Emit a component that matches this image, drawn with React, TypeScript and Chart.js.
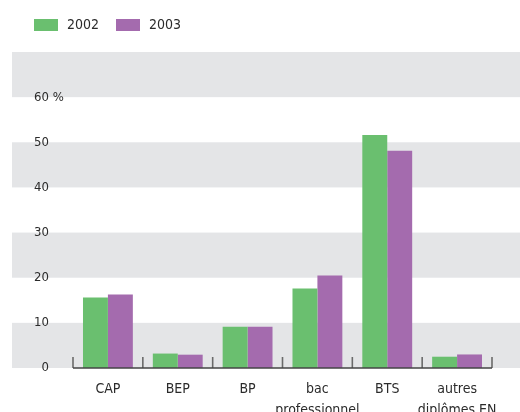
import { useEffect, useRef } from 'react';
import { Chart, registerables } from 'chart.js';

Chart.register(...registerables);

const categories: (string | string[])[] = ['CAP', 'BEP', 'BP', ['bac', 'professionnel'], 'BTS', ['autres', 'diplômes EN']];
const seriesLabels = ['2002', '2003'];
const values2002 = [15.6, 3.2, 9.15, 17.6, 51.6, 2.5];
const values2003 = [16.3, 2.95, 9.15, 20.5, 48.1, 3.0];
const yMin = 0;
const yMax = 70;
const yStep = 10;
const topLabelValue = 60;
const unitSuffix = ' %';

const GREEN = '#6abf6f';
const PURPLE = '#a46bae';
const BAND = '#e4e5e7';
const TEXT = '#2b2b2b';
const FONT = '"Liberation Sans Narrow", "DejaVu Sans Condensed", "Roboto Condensed", sans-serif';

const bandsPlugin = {
  id: 'bands',
  beforeDraw(chart: any) {
    const y = chart.scales.y;
    const ctx = chart.ctx;
    ctx.save();
    ctx.fillStyle = BAND;
    const ticks = y.ticks;
    for (let i = 0; i + 1 < ticks.length; i += 2) {
      const top = y.getPixelForValue(ticks[i + 1].value);
      const bottom = y.getPixelForValue(ticks[i].value);
      ctx.fillRect(y.left, top, chart.width - y.left, bottom - top);
    }
    ctx.restore();
  },
};

const axisPlugin = {
  id: 'axisLine',
  afterDatasetsDraw(chart: any) {
    const x = chart.scales.x;
    const { bottom, left, right } = chart.chartArea;
    const ctx = chart.ctx;
    ctx.save();
    const n = chart.data.labels.length;
    const half = (x.getPixelForValue(1) - x.getPixelForValue(0)) / 2;
    ctx.strokeStyle = '#6a6a6a';
    ctx.lineWidth = 1.6;
    for (let i = 0; i <= n; i++) {
      const px = i < n ? x.getPixelForValue(i) - half : x.getPixelForValue(n - 1) + half;
      ctx.beginPath();
      ctx.moveTo(px, bottom - 11);
      ctx.lineTo(px, bottom);
      ctx.stroke();
    }
    ctx.strokeStyle = '#444444';
    ctx.lineWidth = 1.5;
    ctx.beginPath();
    ctx.moveTo(left, bottom);
    ctx.lineTo(right, bottom);
    ctx.stroke();
    ctx.restore();
  },
};

const extrasPlugin = {
  id: 'extras',
  afterDraw(chart: any) {
    const ctx = chart.ctx;
    ctx.save();
    // unit suffix after the top tick label
    ctx.font = `13px ${FONT}`;
    ctx.fillStyle = TEXT;
    ctx.textAlign = 'left';
    ctx.textBaseline = 'middle';
    ctx.fillText(unitSuffix, chart.chartArea.left - 24, chart.scales.y.getPixelForValue(topLabelValue));
    // legend
    ctx.font = `14px ${FONT}`;
    let lx = 34;
    chart.data.datasets.forEach((ds: any) => {
      ctx.fillStyle = ds.backgroundColor;
      ctx.fillRect(lx, 19, 24, 12);
      ctx.fillStyle = TEXT;
      ctx.fillText(ds.label, lx + 33, 25.5);
      lx += 82;
    });
    ctx.restore();
  },
};

export default function App() {
  const ref = useRef<HTMLCanvasElement>(null);
  useEffect(() => {
    if (!ref.current) return;
    const chart = new Chart(ref.current, {
      type: 'bar',
      data: {
        labels: categories as any,
        datasets: [
          { label: seriesLabels[0], data: values2002, backgroundColor: GREEN, categoryPercentage: 0.714, barPercentage: 1 },
          { label: seriesLabels[1], data: values2003, backgroundColor: PURPLE, categoryPercentage: 0.714, barPercentage: 1 },
        ],
      },
      options: {
        responsive: false,
        animation: false,
        layout: { padding: { left: 12, top: 52, right: 28, bottom: 0 } },
        plugins: { legend: { display: false }, tooltip: { enabled: false } },
        scales: {
          x: {
            grid: { display: false, drawTicks: false },
            border: { display: false },
            ticks: {
              padding: 11.5,
              color: TEXT,
              autoSkip: false,
              maxRotation: 0,
              font: { family: FONT, size: 14, lineHeight: 1.45 },
            },
            afterFit: (s: any) => { s.height = 44; },
          },
          y: {
            min: yMin,
            max: yMax,
            grid: { display: false, drawTicks: false },
            border: { display: false },
            ticks: {
              stepSize: yStep,
              padding: 24,
              color: TEXT,
              font: { family: FONT, size: 13 },
              callback: (v: any) => (v > topLabelValue ? '' : String(v)),
            },
            afterFit: (s: any) => { s.width = 61; },
          },
        },
      },
      plugins: [bandsPlugin, axisPlugin, extrasPlugin],
    });
    return () => chart.destroy();
  }, []);
  return (
    <div style={{ position: 'fixed', left: 0, top: 0, width: 520, height: 412 }}>
      <canvas ref={ref} width={520} height={412} style={{ display: 'block', width: 520, height: 412 }} />
    </div>
  );
}
